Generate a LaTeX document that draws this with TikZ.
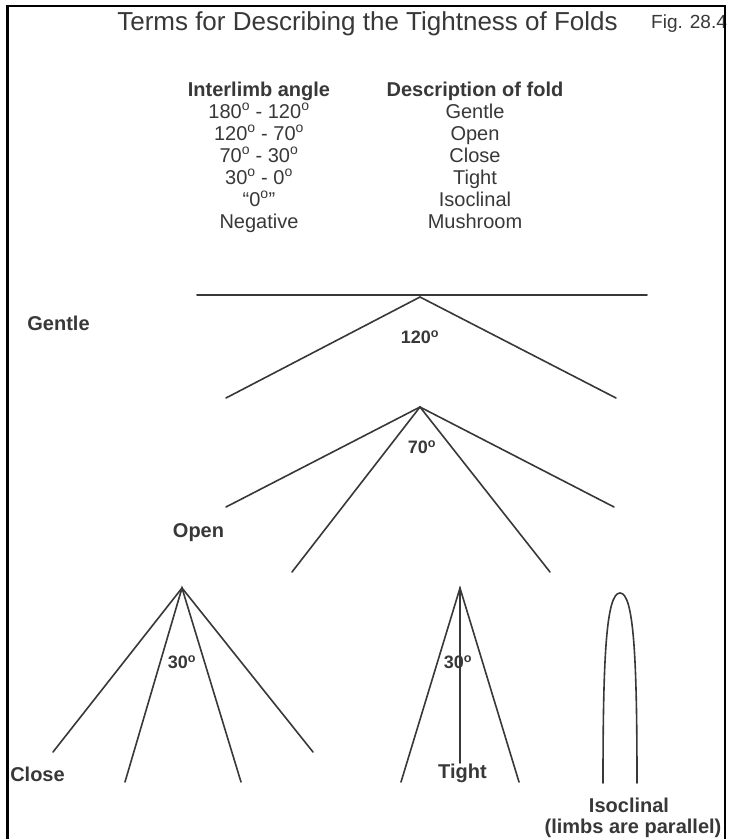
\documentclass[tikz,border=0pt]{standalone}
\usepackage{fontspec}
\setmainfont{Liberation Sans}
\usepackage{tikz}
\usepackage{xcolor}

\definecolor{inkgray}{gray}{0.22}

\begin{document}
\begin{tikzpicture}[x=1pt,y=-1pt,
  every node/.style={text=inkgray,inner sep=0pt},
  txt/.style={font=\fontsize{20}{22}\selectfont,anchor=base},
  hdr/.style={font=\fontsize{20}{22}\selectfont\bfseries,anchor=base},
  lbl/.style={font=\fontsize{20}{22}\selectfont\bfseries},
  ang/.style={font=\fontsize{18}{20}\selectfont\bfseries},
  limb/.style={draw=inkgray,line width=1.6pt,line cap=round}]
\useasboundingbox (0,0) rectangle (729,839);
\fill[white] (0,0) rectangle (729,839);
% heading
\node[font=\fontsize{26}{28}\selectfont,anchor=base] (title) at (367.5,30) {Terms for Describing the Tightness of Folds};
\node[font=\fontsize{19}{21}\selectfont,anchor=base west] (fig) at (651,28) {Fig. 28.4};
% table of terms
\node[hdr] (anghdr) at (259,96) {Interlimb angle};
\node[hdr] (deschdr) at (475,96) {Description of fold};
\node[txt] (ang1) at (259,118) {180\textsuperscript{o} - 120\textsuperscript{o}};
\node[txt] (desc1) at (475,118) {Gentle};
\node[txt] (ang2) at (259,140) {120\textsuperscript{o} - 70\textsuperscript{o}};
\node[txt] (desc2) at (475,140) {Open};
\node[txt] (ang3) at (259,162) {70\textsuperscript{o} - 30\textsuperscript{o}};
\node[txt] (desc3) at (475,162) {Close};
\node[txt] (ang4) at (259,184) {30\textsuperscript{o} - 0\textsuperscript{o}};
\node[txt] (desc4) at (475,184) {Tight};
\node[txt] (ang5) at (259,206) {``0\textsuperscript{o}''};
\node[txt] (desc5) at (475,206) {Isoclinal};
\node[txt] (ang6) at (259,228) {Negative};
\node[txt] (desc6) at (475,228) {Mushroom};
% gentle fold
\coordinate (gapex) at (420,297);
\coordinate (gleft) at (197,295);
\coordinate (gright) at (647,295);
\draw[limb] (gleft) -- (gright);
\draw[limb] (226,398) -- (gapex) -- (616,398);
\node[ang] (g120) at (420,337) {120\textsuperscript{o}};
\node[lbl] (gentle) at (58.5,323) {Gentle};
% open fold
\coordinate (oapex) at (420,407);
\draw[limb] (226,507) -- (oapex) -- (614,507);
\draw[limb] (292,572) -- (oapex) -- (550,572);
\node[ang] (o70) at (422,447) {70\textsuperscript{o}};
\node[lbl] (open) at (198.5,533) {Open};
% close fold
\coordinate (capex) at (182,588);
\draw[limb] (53,752) -- (capex) -- (313,752);
\draw[limb] (125,782) -- (capex) -- (241,782);
\node[ang] (c30) at (182,662) {30\textsuperscript{o}};
\node[lbl] (close) at (37.5,774) {Close};
% tight fold
\coordinate (tapex) at (460,588);
\draw[limb] (401,782) -- (tapex) -- (519,782);
\draw[limb] (tapex) -- (460,763);
\node[ang] (t30) at (458,662) {30\textsuperscript{o}};
\node[lbl] (tight) at (462.5,773) {Tight};
% isoclinal fold
\draw[limb] (603,783) .. controls (603,660) and (606,593) .. (620,593)
  .. controls (634,593) and (637,660) .. (637,783);
\node[lbl] (isoc) at (629,805) {Isoclinal};
\node[lbl] (isocpar) at (633,828) {(limbs are parallel)};
% frame
\draw[black,line width=3pt] (7.5,5) -- (7.5,839);
\draw[black,line width=2pt] (6,6) -- (725,6) -- (725,839);
\end{tikzpicture}
\end{document}
